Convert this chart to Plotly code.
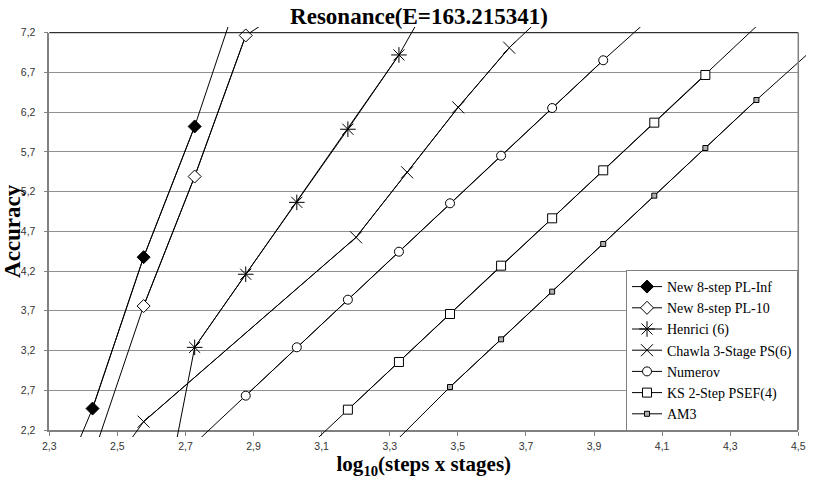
import numpy as np
import plotly.graph_objects as go

# x = log10(steps x stages), y = accuracy.
# End points that fall outside the axes are kept: their lines still run to the chart edge.
pl_inf_x = [2.277, 2.427, 2.577, 2.727, 2.877]
pl_inf_y = [0.94, 2.47, 4.375, 6.02, 7.94]
pl10_x = [2.427, 2.577, 2.727, 2.877, 3.027]
pl10_y = [1.86, 3.76, 5.39, 7.165, 7.59]
henrici_x = [2.577, 2.727, 2.877, 3.027, 3.177, 3.327, 3.477]
henrici_y = [-0.06, 3.24, 4.16, 5.065, 5.985, 6.92, 8.05]
chawla_x = [2.427, 2.577, 3.201, 3.351, 3.501, 3.651, 3.801]
chawla_y = [1.41, 2.305, 4.625, 5.443, 6.261, 7.011, 7.62]
numerov_x = [2.727, 2.877, 3.027, 3.177, 3.327, 3.477, 3.627, 3.777, 3.927, 4.077]
numerov_y = [2.03, 2.632, 3.241, 3.84, 4.444, 5.053, 5.652, 6.252, 6.853, 7.43]
ks_x = [3.027, 3.177, 3.327, 3.477, 3.627, 3.777, 3.927, 4.077, 4.227, 4.377]
ks_y = [1.85, 2.456, 3.056, 3.66, 4.268, 4.864, 5.468, 6.068, 6.668, 7.28]
am3_x = [3.327, 3.477, 3.627, 3.777, 3.927, 4.077, 4.227, 4.377, 4.527]
am3_y = [2.10, 2.741, 3.341, 3.941, 4.541, 5.149, 5.749, 6.353, 6.93]

names = ["New 8-step PL-Inf", "New 8-step PL-10", "Henrici (6)", "Chawla 3-Stage PS(6)",
         "Numerov", "KS 2-Step PSEF(4)", "AM3"]

x_ticks = [2.3, 2.5, 2.7, 2.9, 3.1, 3.3, 3.5, 3.7, 3.9, 4.1, 4.3, 4.5]
x_labels = ["2,3", "2,5", "2,7", "2,9", "3,1", "3,3", "3,5", "3,7", "3,9", "4,1", "4,3", "4,5"]
y_ticks = [2.2, 2.7, 3.2, 3.7, 4.2, 4.7, 5.2, 5.7, 6.2, 6.7, 7.2]
y_labels = ["2,2", "2,7", "3,2", "3,7", "4,2", "4,7", "5,2", "5,7", "6,2", "6,7", "7,2"]

X_RANGE = [2.3, 4.5]
Y_RANGE = [2.2, 7.2]

# marker style per series
styles = [
    dict(symbol="diamond", size=10, color="black", line=dict(color="black", width=1)),
    dict(symbol="diamond", size=10, color="white", line=dict(color="black", width=1)),
    dict(symbol="asterisk-open", size=13, color="black", line=dict(color="black", width=1)),
    dict(symbol="x-thin-open", size=12, color="black", line=dict(color="black", width=1)),
    dict(symbol="circle", size=9, color="white", line=dict(color="black", width=1)),
    dict(symbol="square", size=9, color="white", line=dict(color="black", width=1)),
    dict(symbol="square", size=5, color="#b0b0b0", line=dict(color="black", width=1)),
]

series = [(pl_inf_x, pl_inf_y), (pl10_x, pl10_y), (henrici_x, henrici_y), (chawla_x, chawla_y),
          (numerov_x, numerov_y), (ks_x, ks_y), (am3_x, am3_y)]

# the lines are drawn on a second, slightly larger pair of axes with the same scale,
# so they run a few pixels past the frame like in the original
W, H = 830, 481
ml, mr, mt, mb = 49, 24, 27, 44
pw, ph = W - ml - mr, H - mt - mb
xd = [(49.3 - ml) / pw, (798.3 - ml) / pw]
yd = [(H - mb - 430) / ph, (H - mb - 32.7) / ph]
sx = (X_RANGE[1] - X_RANGE[0]) / (xd[1] - xd[0])
sy = (Y_RANGE[1] - Y_RANGE[0]) / (yd[1] - yd[0])
x2_range = [X_RANGE[0] - xd[0] * sx, X_RANGE[1] + (1 - xd[1]) * sx]
y2_range = [Y_RANGE[0] - yd[0] * sy, Y_RANGE[1] + (1 - yd[1]) * sy]

fig = go.Figure()

# empty trace so the framed x/y axes (ticks, grid) get drawn
fig.add_trace(go.Scatter(x=[], y=[], showlegend=False, hoverinfo="skip"))

for (xs, ys), name in zip(series, names):
    fig.add_trace(go.Scatter(x=xs, y=ys, mode="lines", line=dict(color="black", width=1),
                             xaxis="x2", yaxis="y2", showlegend=False, hoverinfo="skip"))

for (xs, ys), name, st in zip(series, names, styles):
    xs, ys = np.array(xs), np.array(ys)
    inside = (xs >= X_RANGE[0]) & (xs <= X_RANGE[1]) & (ys >= Y_RANGE[0]) & (ys <= Y_RANGE[1])
    fig.add_trace(go.Scatter(x=xs[inside], y=ys[inside], mode="lines+markers", name=name,
                             line=dict(color="black", width=1), marker=st,
                             xaxis="x2", yaxis="y2"))

tick_font = dict(family="Liberation Sans", size=10.5, color="#333333")
title_font = dict(family="Liberation Serif", size=21, color="black")

fig.update_layout(
    width=W, height=H,
    margin=dict(l=ml, r=mr, t=mt, b=mb, autoexpand=False),
    paper_bgcolor="white",
    plot_bgcolor="rgba(0,0,0,0)",
    title=dict(text="<b>Resonance(E=163.215341)</b>", x=419 / W, xanchor="center",
               y=1 - 16 / H, yanchor="middle", yref="container",
               font=dict(family="Liberation Serif", size=23, color="black")),
    xaxis=dict(domain=xd, range=X_RANGE, tickvals=x_ticks, ticktext=x_labels, showgrid=False,
               showline=True, linecolor="#808080", linewidth=1.5, ticks="outside", ticklen=4,
               tickcolor="#808080", tickfont=tick_font, zeroline=False, ticklabelstandoff=2,
               automargin=False,
               title=dict(text="<b>log<sub>10</sub>(steps x stages)</b>", font=title_font, standoff=0)),
    yaxis=dict(domain=yd, range=Y_RANGE, tickvals=y_ticks, ticktext=y_labels, showgrid=True,
               gridcolor="#909090", gridwidth=1, showline=True, linecolor="#808080", linewidth=1.5,
               ticks="outside", ticklen=4, tickcolor="#808080", tickfont=tick_font, zeroline=False,
               ticklabelstandoff=6, automargin=False,
               title=dict(text="<b>Accuracy</b>", font=dict(family="Liberation Serif", size=23,
                                                             color="black"), standoff=0)),
    xaxis2=dict(domain=[0, 1], range=x2_range, visible=False, anchor="y2", automargin=False),
    yaxis2=dict(domain=[0, 1], range=y2_range, visible=False, anchor="x2", automargin=False),
    legend=dict(x=(798 - ml) / pw, xanchor="right", y=(H - mb - 431) / ph, yanchor="bottom",
                bgcolor="white", bordercolor="#808080", borderwidth=1, tracegroupgap=0,
                font=dict(family="Liberation Serif", size=14, color="black"), itemwidth=30),
    shapes=[
        dict(type="line", xref="x domain", yref="y domain", x0=0, x1=1, y0=1, y1=1,
             line=dict(color="black", width=1)),
        dict(type="line", xref="x domain", yref="y domain", x0=1, x1=1, y0=0, y1=1,
             line=dict(color="#808080", width=1.5)),
    ],
)

# the page body has a default 8px margin; drop it so the chart sits at the window corner
fig.write_html("out.html", config={"displayModeBar": False},
               post_script="document.body.style.margin='0';")
